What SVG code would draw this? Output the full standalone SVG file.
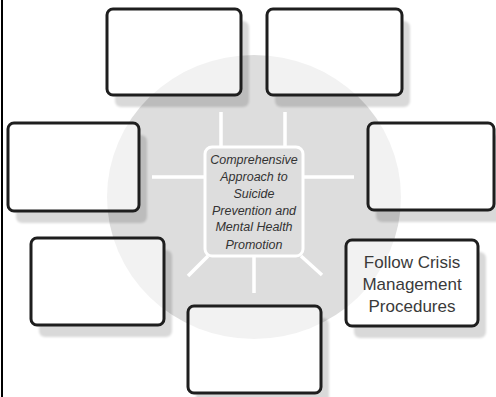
<svg xmlns="http://www.w3.org/2000/svg" width="496" height="397" viewBox="0 0 496 397">
  <style>
    .box { fill: #ffffff; fill-opacity: 0.62; stroke: #1e1e1e; stroke-width: 3; }
    .shadow { fill: #000000; fill-opacity: 0.15; }
    .spoke { stroke: #ffffff; stroke-width: 3.5; stroke-linecap: butt; fill: none; }
    .hub-text { font-family: "Liberation Sans", Arial, sans-serif; font-style: italic; font-size: 12.5px; fill: #333333; text-anchor: middle; }
    .label { font-family: "Liberation Sans", Arial, sans-serif; font-size: 17px; fill: #3a3a3a; text-anchor: middle; }
  </style>
  <defs>
    <filter id="soft" x="-10%" y="-10%" width="120%" height="120%">
      <feGaussianBlur stdDeviation="1"/>
    </filter>
    <!-- keeps the drop shadows from showing through the translucent boxes -->
    <mask id="outsideBoxes" maskUnits="userSpaceOnUse" x="0" y="0" width="496" height="397">
      <rect x="0" y="0" width="496" height="397" fill="#ffffff"/>
      <g fill="#000000">
        <rect x="107" y="9" width="134" height="86" rx="6"/>
        <rect x="267" y="9" width="135" height="86" rx="6"/>
        <rect x="8" y="123" width="131" height="88" rx="6"/>
        <rect x="368" y="123" width="126" height="87" rx="6"/>
        <rect x="31" y="238" width="133" height="87" rx="6"/>
        <rect x="346" y="240" width="132" height="86" rx="6"/>
        <rect x="188" y="306" width="133" height="87" rx="6"/>
      </g>
    </mask>
  </defs>

  <rect x="0" y="0" width="496" height="397" fill="#ffffff"/>
  <!-- page edge on the left -->
  <line x1="2" y1="0" x2="2" y2="397" stroke="#000000" stroke-width="2"/>

  <!-- backdrop disc -->
  <ellipse cx="254" cy="197" rx="147" ry="142" fill="#dddddd"/>

  <!-- drop shadows -->
  <g id="shadows" mask="url(#outsideBoxes)">
    <g filter="url(#soft)">
      <rect class="shadow" x="115" y="21" width="134" height="86" rx="6"/>
      <rect class="shadow" x="275" y="21" width="135" height="86" rx="6"/>
      <rect class="shadow" x="16" y="135" width="131" height="88" rx="6"/>
      <rect class="shadow" x="376" y="135" width="126" height="87" rx="6"/>
      <rect class="shadow" x="39" y="250" width="133" height="87" rx="6"/>
      <rect class="shadow" x="354" y="252" width="132" height="86" rx="6"/>
      <rect class="shadow" x="196" y="318" width="133" height="87" rx="6"/>
    </g>
  </g>

  <!-- connectors: white spokes from the hub -->
  <g id="connectors">
    <line class="spoke" x1="221" y1="112" x2="221" y2="148"/>
    <line class="spoke" x1="285" y1="112" x2="285" y2="148"/>
    <line class="spoke" x1="152" y1="177" x2="205" y2="177"/>
    <line class="spoke" x1="304" y1="177" x2="354" y2="177"/>
    <line class="spoke" x1="254" y1="256" x2="254" y2="293"/>
    <line class="spoke" x1="208" y1="256" x2="188" y2="276"/>
    <line class="spoke" x1="301" y1="256" x2="322" y2="275"/>
  </g>

  <!-- hub -->
  <g id="hub">
    <rect x="205" y="147" width="98" height="109" rx="7" fill="#dddddd" stroke="#ffffff" stroke-width="3"/>
    <text class="hub-text" x="254" y="164">Comprehensive</text>
    <text class="hub-text" x="254" y="181">Approach to</text>
    <text class="hub-text" x="254" y="197.5">Suicide</text>
    <text class="hub-text" x="254" y="214.5">Prevention and</text>
    <text class="hub-text" x="254" y="231">Mental Health</text>
    <text class="hub-text" x="254" y="248.5">Promotion</text>
  </g>

  <g id="box-top-left"><rect class="box" x="107" y="9" width="134" height="86" rx="6"/></g>
  <g id="box-top-right"><rect class="box" x="267" y="9" width="135" height="86" rx="6"/></g>
  <g id="box-mid-left"><rect class="box" x="8" y="123" width="131" height="88" rx="6"/></g>
  <g id="box-mid-right"><rect class="box" x="368" y="123" width="126" height="87" rx="6"/></g>
  <g id="box-low-left"><rect class="box" x="31" y="238" width="133" height="87" rx="6"/></g>
  <g id="box-crisis">
    <rect class="box" x="346" y="240" width="132" height="86" rx="6"/>
    <text class="label" x="412" y="268">Follow Crisis</text>
    <text class="label" x="412" y="290">Management</text>
    <text class="label" x="412" y="312">Procedures</text>
  </g>
  <g id="box-bottom"><rect class="box" x="188" y="306" width="133" height="87" rx="6"/></g>
</svg>
